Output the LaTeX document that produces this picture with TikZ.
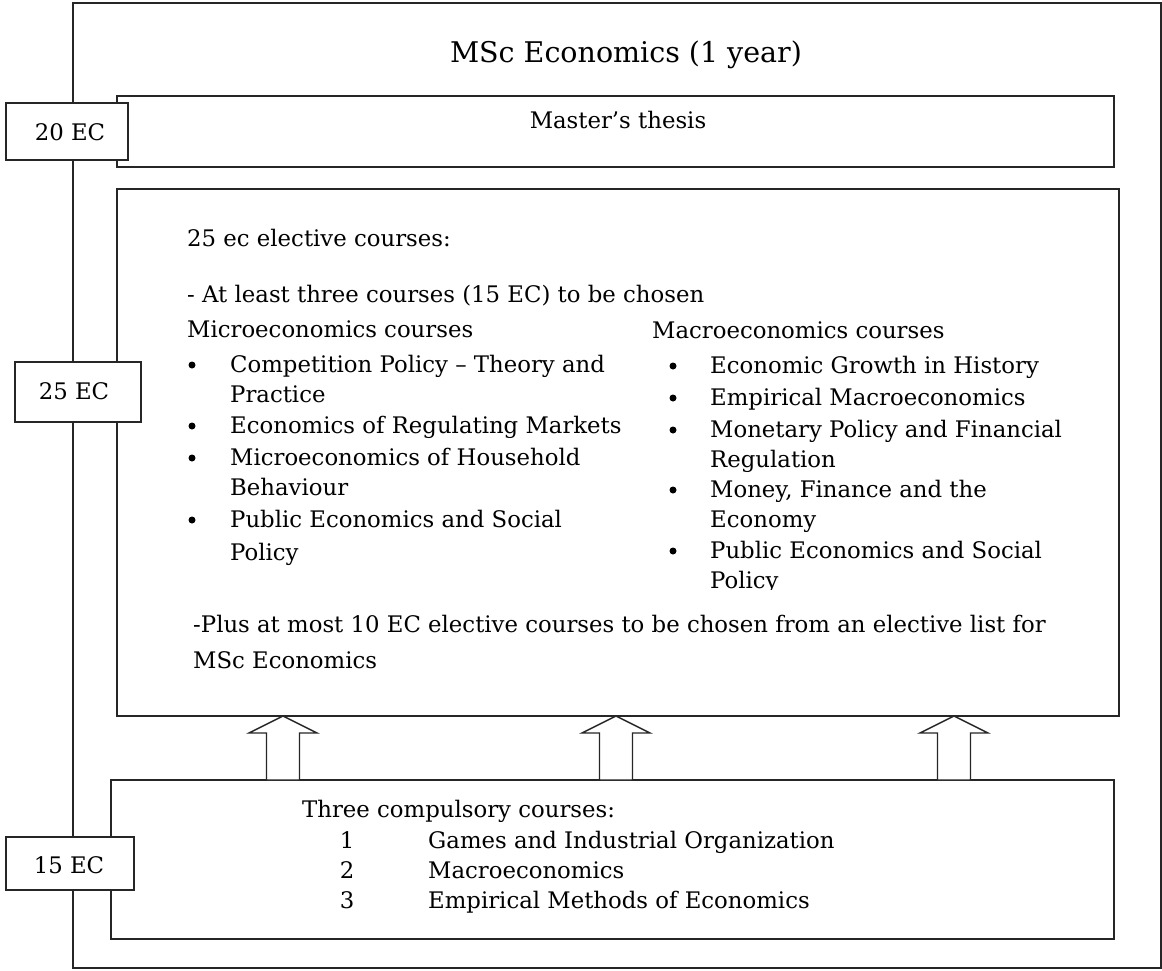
\documentclass[tikz,border=0pt]{standalone}
\usepackage{fontspec}
\setmainfont{DejaVu Serif}
\usetikzlibrary{fit}

\tikzset{
  boxline/.style={draw=black!85, line width=1.4pt},
  panel/.style={boxline, fill=white, rectangle, inner sep=0pt},
  txt/.style={inner sep=0pt, anchor=base west, font=\bodyfont},
  ctxt/.style={inner sep=0pt, anchor=base, font=\bodyfont},
  bulletdot/.style={circle, fill=black, inner sep=0pt, minimum size=7pt},
  blockarrow/.style={boxline, fill=white, line join=miter}
}
\newcommand{\bodyfont}{\fontsize{22.8}{27}\selectfont}
\newcommand{\titlefont}{\fontsize{28.5}{34}\selectfont}

\begin{document}
\begin{tikzpicture}[x=1pt, y=-1pt]
  \useasboundingbox (0,0) rectangle (1162,970);

  % outer frame of the programme
  \node[panel, fill=none, fit={(73,3) (1161,968)}] (frame) {};

  % title
  \node[ctxt, font=\titlefont] (title) at (626,62) {MSc Economics (1 year)};

  % main blocks
  \node[panel, fit={(117,96) (1114,167)}] (thesis) {};
  \node[panel, fit={(117,189) (1119,716)}] (elective) {};
  \node[panel, fit={(111,780) (1114,939)}] (compulsory) {};

  % credit labels on the frame
  \node[panel, fit={(6,103) (128,160)}] (ec20) {};
  \node[panel, fit={(15,362) (141,422)}] (ec25) {};
  \node[panel, fit={(6,837) (134,890)}] (ec15) {};
  \node[ctxt] (ec20t) at (70,140) {20 EC};
  \node[ctxt] (ec25t) at (74,399) {25 EC};
  \node[ctxt] (ec15t) at (69,873) {15 EC};

  % thesis text
  \node[ctxt] (thesist) at (618,128) {Master’s thesis};

  % elective block text
  \node[txt] (el1) at (187,246) {25 ec elective courses:};
  \node[txt] (el2) at (187,302) {- At least three courses (15 EC) to be chosen};
  \node[txt] (microh) at (187,337) {Microeconomics courses};
  \foreach \y [count=\i] in {372,433,465,527}
    \node[bulletdot] (mib\i) at (192,\y-7) {};
  \node[txt] (mi1) at (230,372) {Competition Policy – Theory and};
  \node[txt] (mi1b) at (230,402) {Practice};
  \node[txt] (mi2) at (230,433) {Economics of Regulating Markets};
  \node[txt] (mi3) at (230,465) {Microeconomics of Household};
  \node[txt] (mi3b) at (230,495) {Behaviour};
  \node[txt] (mi4) at (230,527) {Public Economics and Social};
  \node[txt] (mi4b) at (230,560) {Policy};

  \node[txt] (macroh) at (652,338) {Macroeconomics courses};
  \foreach \y [count=\i] in {373,405,437,497,558}
    \node[bulletdot] (mab\i) at (673,\y-7) {};
  \node[txt] (ma1) at (710,373) {Economic Growth in History};
  \node[txt] (ma2) at (710,405) {Empirical Macroeconomics};
  \node[txt] (ma3) at (710,437) {Monetary Policy and Financial};
  \node[txt] (ma3b) at (710,467) {Regulation};
  \node[txt] (ma4) at (710,497) {Money, Finance and the};
  \node[txt] (ma4b) at (710,527) {Economy};
  \node[txt] (ma5) at (710,558) {Public Economics and Social};
  \begin{scope}
    \clip (700,560) rectangle (900,589);
    \node[txt] (ma5b) at (710,588) {Policy};
  \end{scope}

  \node[txt] (plus1) at (193,632) {-Plus at most 10 EC elective courses to be chosen from an elective list for};
  \node[txt] (plus2) at (193,668) {MSc Economics};

  % compulsory block text
  \node[txt] (comph) at (302,817) {Three compulsory courses:};
  \node[ctxt] (cn1) at (347,848) {1};
  \node[ctxt] (cn2) at (347,878) {2};
  \node[ctxt] (cn3) at (347,908) {3};
  \node[txt] (c1) at (428,848) {Games and Industrial Organization};
  \node[txt] (c2) at (428,878) {Macroeconomics};
  \node[txt] (c3) at (428,908) {Empirical Methods of Economics};

  % block arrows from compulsory courses up to the electives
  \foreach \cx in {283,616,954}{
    \draw[blockarrow]
      (\cx,716) -- (\cx+34,733) -- (\cx+16.5,733) -- (\cx+16.5,780)
      -- (\cx-16.5,780) -- (\cx-16.5,733) -- (\cx-34,733) -- cycle;
  }
\end{tikzpicture}
\end{document}
